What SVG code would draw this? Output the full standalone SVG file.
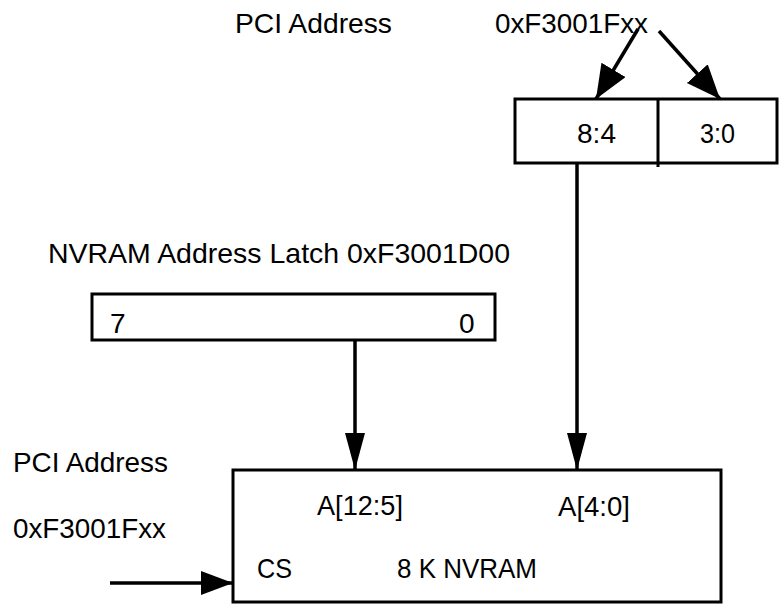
<svg xmlns="http://www.w3.org/2000/svg" width="780" height="606" viewBox="0 0 780 606">
<style>
text{font-family:"Liberation Sans",Arial,Helvetica,sans-serif;font-size:28px;fill:#000}
.box{fill:#fff;stroke:#000;stroke-width:3}
.wire{fill:none;stroke:#000;stroke-width:3.5}
</style>
<defs>
<marker id="ah" markerUnits="userSpaceOnUse" markerWidth="38" markerHeight="30" refX="34" refY="14" orient="auto" viewBox="0 0 38 30">
<path d="M0,0 L34,14 L0,28 z" fill="#000"/>
</marker>
<marker id="ahv" markerUnits="userSpaceOnUse" markerWidth="40" markerHeight="24" refX="37" refY="10" orient="auto" viewBox="0 0 40 24">
<path d="M0,0 L37,10 L0,20 z" fill="#000"/>
</marker>
<marker id="ahh" markerUnits="userSpaceOnUse" markerWidth="36" markerHeight="28" refX="32" refY="12" orient="auto" viewBox="0 0 36 28">
<path d="M0,0 L32,12 L0,24 z" fill="#000"/>
</marker>
</defs>
<rect width="780" height="606" fill="#fff"/>
<g id="pci-top">
<text x="235" y="33" textLength="157" lengthAdjust="spacingAndGlyphs">PCI Address</text>
<text x="495" y="33" textLength="153" lengthAdjust="spacingAndGlyphs">0xF3001Fxx</text>
</g>
<g id="split-reg">
<rect class="box" x="515" y="99" width="262" height="64"/>
<line x1="658" y1="99" x2="658" y2="167" stroke="#000" stroke-width="3"/>
<text x="577" y="143" textLength="39" lengthAdjust="spacingAndGlyphs">8:4</text>
<text x="700" y="143" textLength="35" lengthAdjust="spacingAndGlyphs">3:0</text>
</g>
<g id="latch">
<text x="48" y="263" textLength="462" lengthAdjust="spacingAndGlyphs">NVRAM Address Latch 0xF3001D00</text>
<rect class="box" x="92" y="294" width="403" height="46"/>
<text x="110" y="333">7</text>
<text x="459" y="333">0</text>
</g>
<g id="pci-left">
<text x="13" y="472" textLength="155" lengthAdjust="spacingAndGlyphs">PCI Address</text>
<text x="13" y="538" textLength="153" lengthAdjust="spacingAndGlyphs">0xF3001Fxx</text>
</g>
<g id="nvram">
<rect class="box" x="233" y="470" width="488" height="132"/>
<text x="317" y="515" textLength="86" lengthAdjust="spacingAndGlyphs">A[12:5]</text>
<text x="558" y="516" textLength="72" lengthAdjust="spacingAndGlyphs">A[4:0]</text>
<text x="257" y="578" textLength="35" lengthAdjust="spacingAndGlyphs">CS</text>
<text x="397" y="578" textLength="140" lengthAdjust="spacingAndGlyphs">8 K NVRAM</text>
</g>
<g id="connectors">
<line class="wire" x1="638" y1="29" x2="596" y2="99" marker-end="url(#ah)"/>
<line class="wire" x1="659" y1="31" x2="720" y2="99" marker-end="url(#ah)"/>
<line class="wire" x1="577" y1="163" x2="577" y2="470" marker-end="url(#ahv)"/>
<line class="wire" x1="355" y1="340" x2="355" y2="470" marker-end="url(#ahv)"/>
<line class="wire" x1="110" y1="583" x2="233" y2="583" marker-end="url(#ahh)"/>
</g>
</svg>
